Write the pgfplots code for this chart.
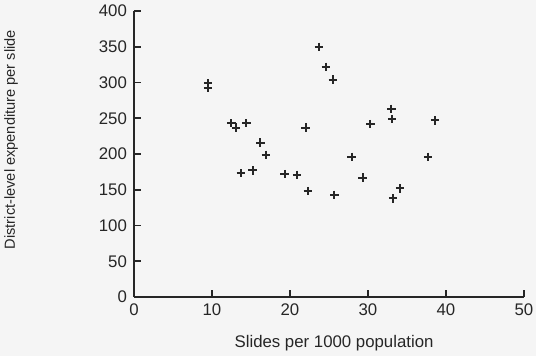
\documentclass[border=0pt]{standalone}
\usepackage{fontspec}
\setmainfont{Liberation Sans}
\usepackage{pgfplots}
\pgfplotsset{compat=1.18}
\begin{document}
\begin{tikzpicture}
\useasboundingbox (-67pt,-29.5pt) rectangle (201pt,148.5pt);
\fill[black!4] (-67pt,-29.5pt) rectangle (201pt,148.5pt);
\begin{axis}[
  at={(0,0)}, anchor=south west,
  width=195pt, height=143pt, scale only axis,
  xmin=0, xmax=50, ymin=0, ymax=400,
  axis lines*=left,
  axis line style={line width=0.8pt, black!85},
  xtick={0,10,...,50}, ytick={0,50,...,400},
  tick align=inside,
  major tick length=3.5pt,
  every tick/.style={line width=0.8pt, black!85},
  /pgf/number format/assume math mode=true,
  tick label style={font=\fontsize{8.4}{10}\selectfont, text=black!85},
  label style={font=\fontsize{8.4}{10}\selectfont, text=black!85},
  xlabel={Slides per 1000 population},
  ylabel={District-level expenditure per slide},
  xlabel style={at={(axis description cs:0.513,-0.161)}, anchor=center},
  ylabel style={at={(axis description cs:-0.315,0.55)}, anchor=center, font=\fontsize{7.3}{9}\selectfont},
  clip=false,
]
\addplot[only marks, mark=+, mark size=2.1pt, mark options={line width=1pt, black!85}] coordinates {
(23.7,350) (24.6,322) (25.5,304) (9.5,299) (9.5,292)
(12.5,243) (13.1,237) (14.4,243) (22.0,237) (16.2,216)
(16.9,199) (13.7,173) (15.2,177) (19.3,172) (20.9,171)
(22.3,148) (25.7,143) (33.0,263) (33.1,249) (30.3,242)
(37.7,196) (38.6,247) (27.9,196) (29.3,167) (34.1,152)
(33.2,138)
};
\end{axis}
\end{tikzpicture}
\end{document}
